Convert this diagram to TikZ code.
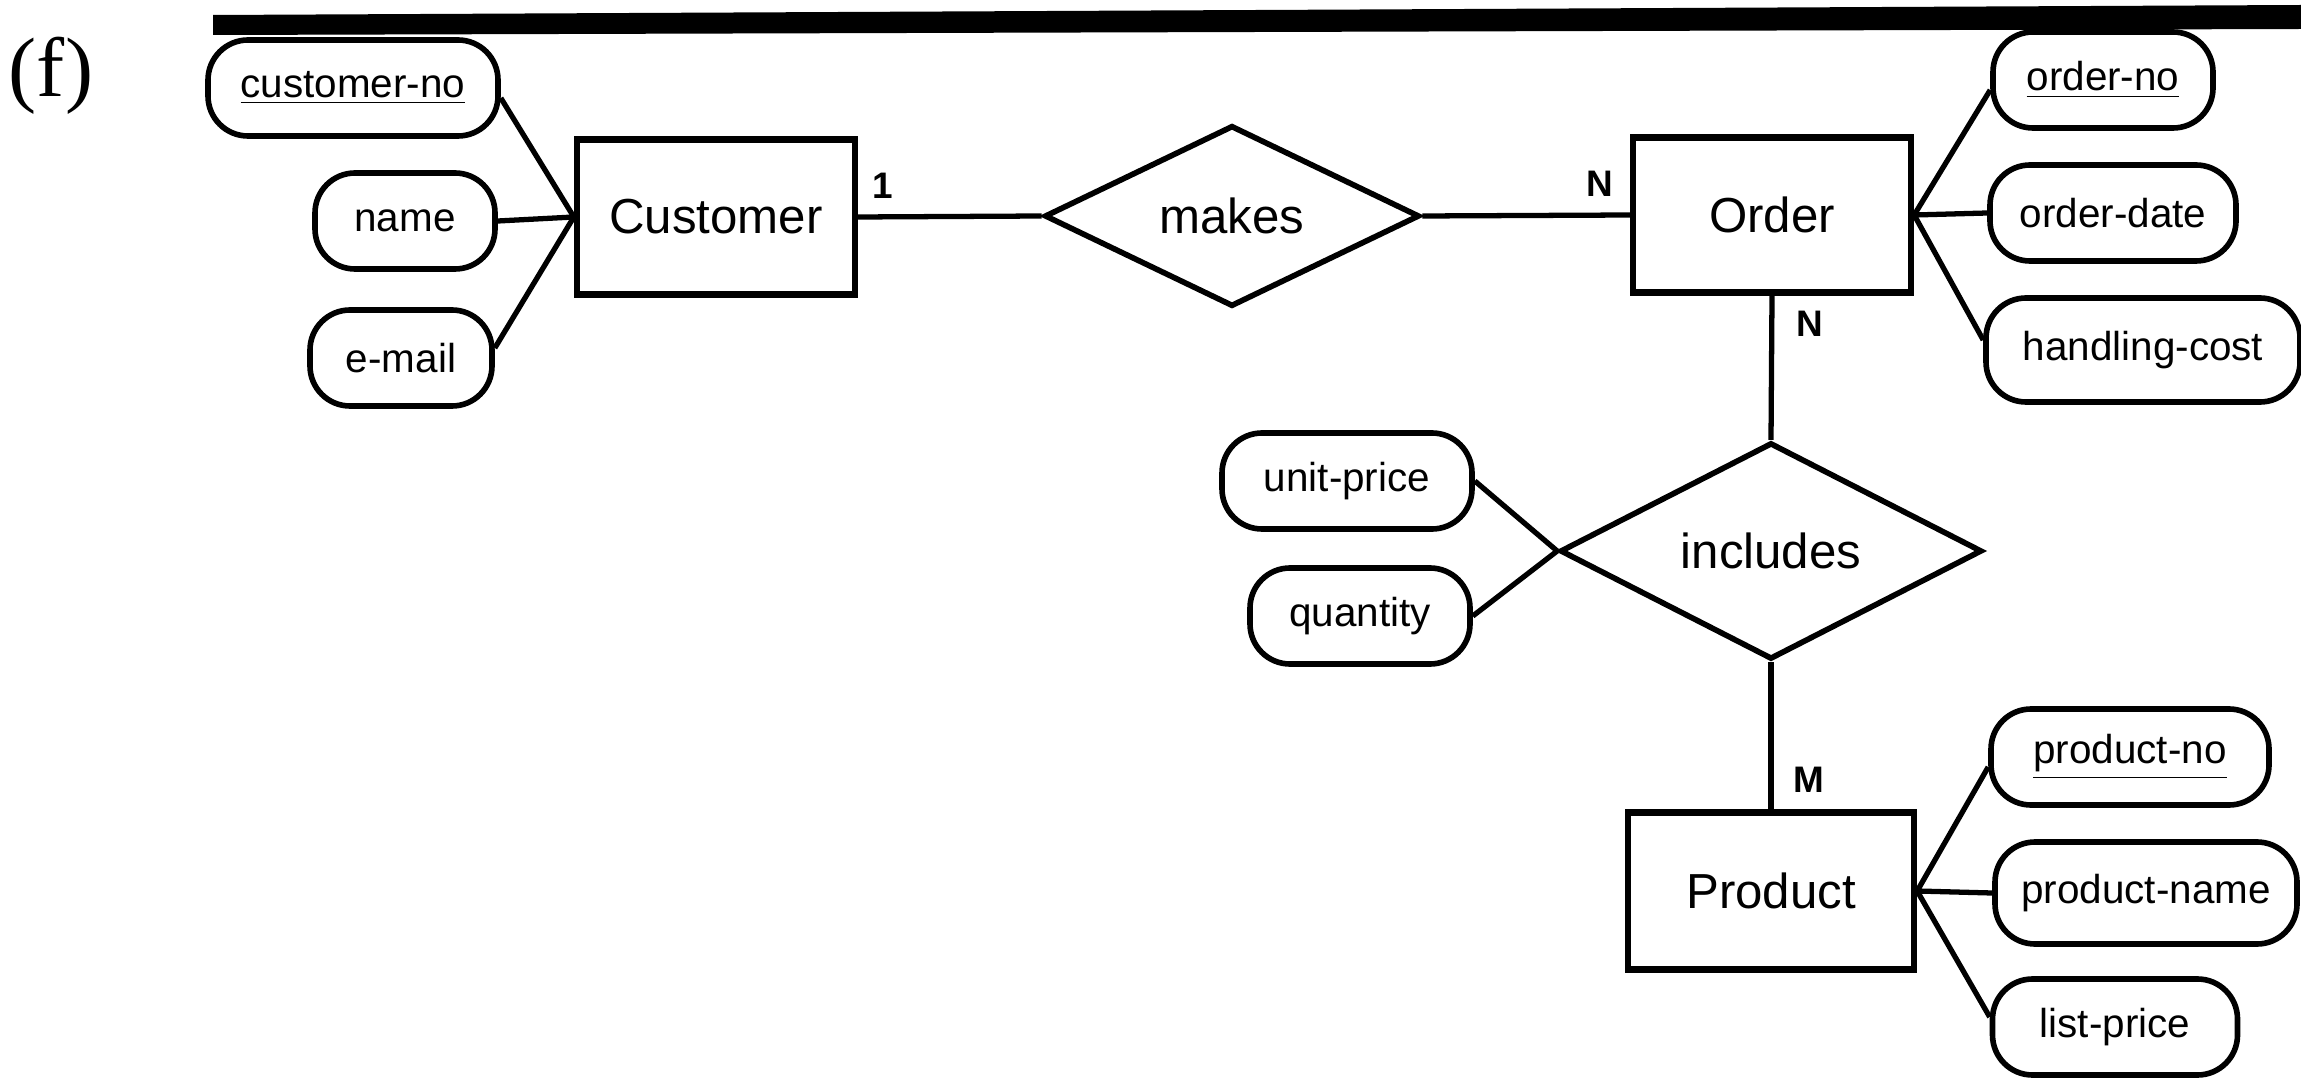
\documentclass[tikz,border=0pt]{standalone}
\usepackage{fontspec}
\setmainfont{Liberation Sans}
\newfontfamily\serifft{Liberation Serif}
\usetikzlibrary{shapes.geometric}
\begin{document}
\begin{tikzpicture}[x=0.1mm,y=-0.1mm,
  ent/.style={draw, line width=1.8pt, minimum width=27.8mm, minimum height=15.5mm, inner sep=0, font=\fontsize{14}{16}\selectfont},
  rel/.style={draw, diamond, line width=1.6pt, inner sep=0, font=\fontsize{14}{16}\selectfont},
  attr/.style={draw, line width=1.6pt, rounded corners=4mm, minimum height=9.6mm, inner sep=0, font=\fontsize{11.5}{13}\selectfont},
  conn/.style={line width=1.5pt},
  card/.style={inner sep=0, font=\bfseries\fontsize{10.5}{12}\selectfont}
]
\useasboundingbox (0,0) rectangle (2301,1079);

% top rule
\fill (213,15) -- (2301,5) -- (2301,29) -- (213,35) -- cycle;

% label
\node[inner sep=0, font=\serifft\fontsize{24}{28}\selectfont] (lbl) at (51,76) {(f)};

% Customer side
\node[attr, minimum width=29mm] (cno) at (353,88) {\underline{customer-no}};
\node[attr, minimum width=18mm] (name) at (405,221) {name};
\node[attr, minimum width=18.2mm] (email) at (401,358) {e-mail};
\node[ent] (cust) at (716,217) {Customer};

% makes
\node[rel, minimum width=37.5mm, minimum height=16.8mm] (makes) at (1232,216) {makes};

% Order side
\node[ent] (order) at (1772,215) {Order};
\node[attr, minimum width=22mm] (ono) at (2103,80) {\underline{order-no}};
\node[attr, minimum width=24.6mm] (odate) at (2113,213) {order-date};
\node[attr, minimum width=31.4mm, minimum height=10.4mm] (hcost) at (2143,350) {handling-cost};

% includes
\node[rel, minimum width=42.2mm, minimum height=16.8mm] (incl) at (1771,551) {includes};
\node[attr, minimum width=25mm] (uprice) at (1347,481) {unit-price};
\node[attr, minimum width=22mm] (qty) at (1360,616) {quantity};

% Product side
\node[ent, minimum width=28.6mm, minimum height=15.7mm] (prod) at (1771,891) {Product};
\node[attr, minimum width=27.8mm] (pno) at (2130,757) {\underline{product-no}};
\node[attr, minimum width=30.2mm, minimum height=10.2mm] (pname) at (2146,893) {product-name};
\node[attr, minimum width=24.5mm] (lprice) at (2115,1027) {list-price};

% connectors
\draw[conn] ([yshift=-1mm]cno.east) -- (cust.west);
\draw[conn] (name.east) -- (cust.west);
\draw[conn] ([yshift=1mm]email.east) -- (cust.west);
\draw[conn] (cust.east) -- (makes.west);
\draw[conn] (makes.east) -- (order.west);
\draw[conn] (order.east) -- ([yshift=-1mm]ono.west);
\draw[conn] (order.east) -- (odate.west);
\draw[conn] (order.east) -- ([yshift=1mm]hcost.west);
\draw[conn] (order.south) -- (incl.north);
\draw[conn] (uprice.east) -- (incl.west);
\draw[conn] (qty.east) -- (incl.west);
\draw[conn] (incl.south) -- (prod.north);
\draw[conn] (prod.east) -- ([yshift=-1mm]pno.west);
\draw[conn] (prod.east) -- (pname.west);
\draw[conn] (prod.east) -- ([yshift=1mm]lprice.west);

% cardinalities
\node[card] (c1) at (883,186) {1};
\node[card] (cn1) at (1600,184) {N};
\node[card] (cn2) at (1810,324) {N};
\node[card] (cm) at (1809,780) {M};
\end{tikzpicture}
\end{document}
